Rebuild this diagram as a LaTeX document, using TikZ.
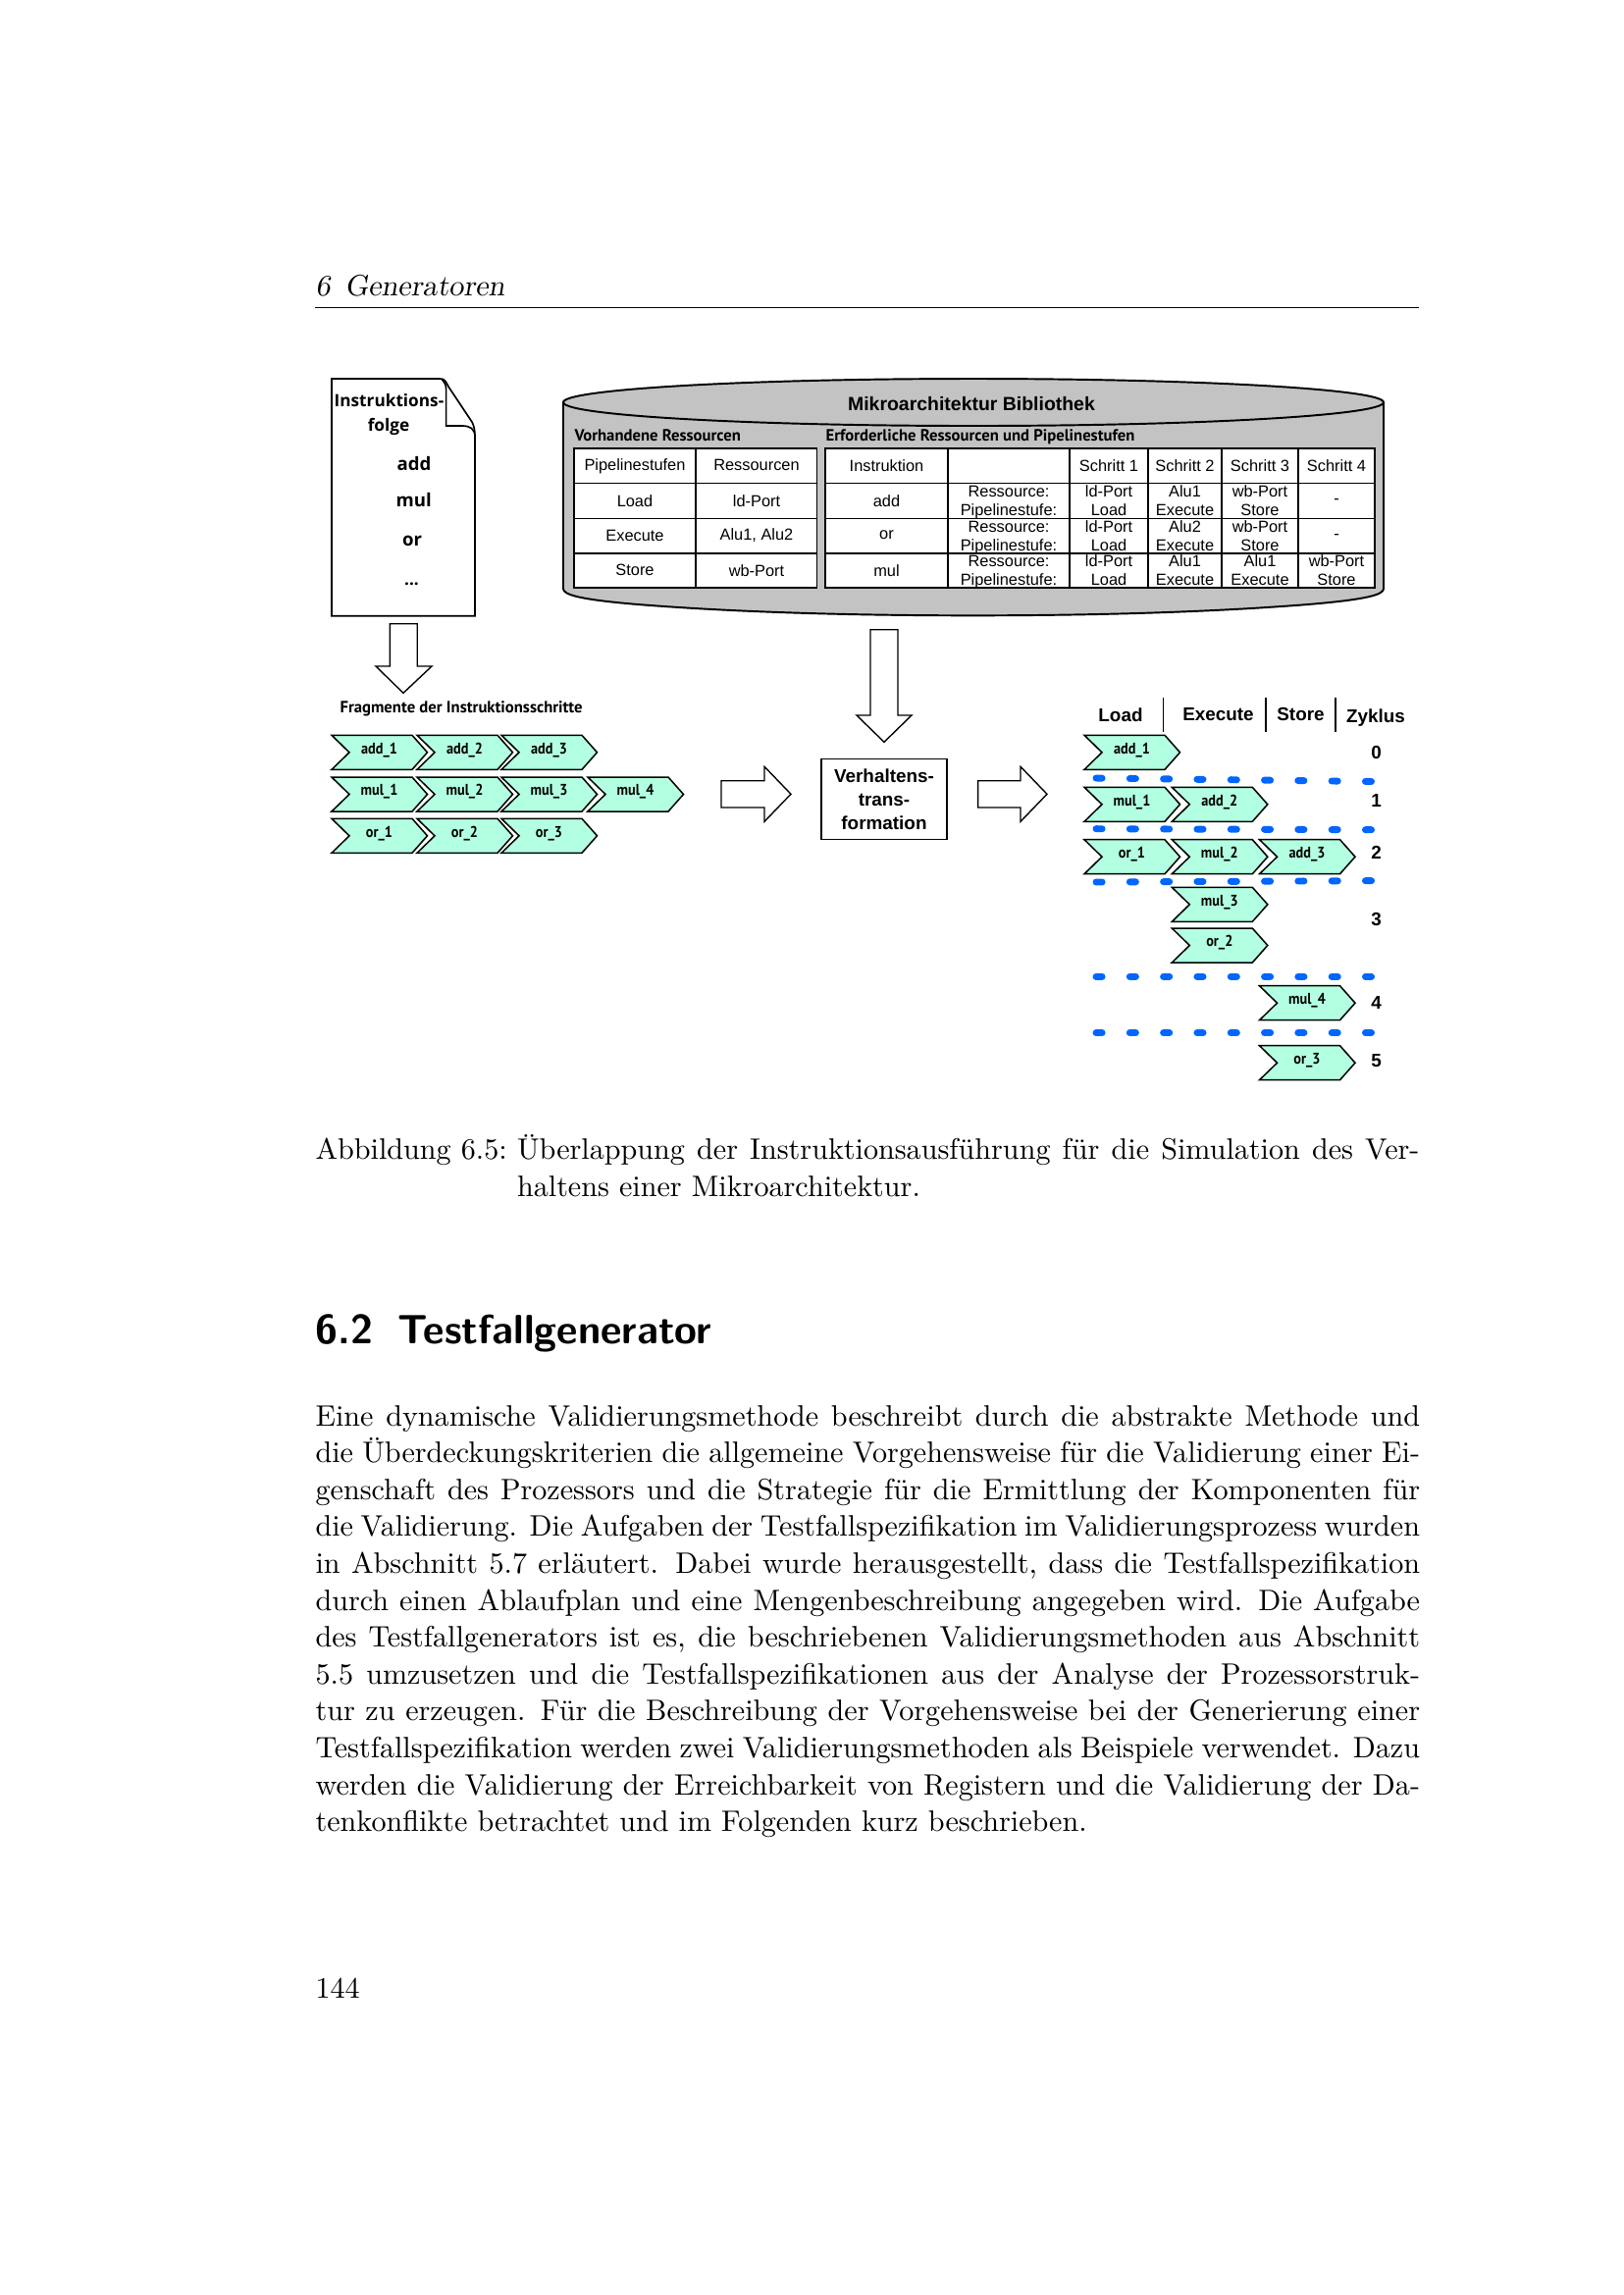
\documentclass[tikz,border=0pt]{standalone}
\usepackage{fontspec}
\newfontfamily\arialf{Liberation Sans}
\newfontfamily\docf{Open Sans}
\newfontfamily\condf{PT Sans}
\newfontfamily\chevf[FakeStretch=0.9]{PT Sans}
\definecolor{chevfill}{RGB}{179,255,226}
\definecolor{cylfill}{RGB}{195,195,195}
\definecolor{dotblue}{RGB}{0,102,255}
\tikzset{
  chevshape/.style={draw=black,fill=chevfill,line width=0.55pt,line join=miter},
  chevtext/.style={inner sep=0pt,font=\chevf\bfseries\fontsize{5.7}{7}\selectfont},
  blockarrow/.style={draw=black,fill=white,line width=0.5pt,line join=miter,xshift=0.36pt},
  tabfill/.style={draw=black,fill=white,line width=0.65pt},
  tabline/.style={draw=black,line width=0.4pt},
  tabthick/.style={draw=black,line width=0.75pt},
  tabtext/.style={inner sep=0pt,align=center,font=\arialf\fontsize{5.9}{6.9}\selectfont},
  headtext/.style={inner sep=0pt,anchor=base west,font=\condf\bfseries\fontsize{6.0}{7}\selectfont},
  doctext/.style={inner sep=0pt,font=\docf\bfseries\fontsize{6.2}{8}\selectfont},
  docbig/.style={inner sep=0pt,font=\docf\bfseries\fontsize{6.7}{8}\selectfont},
  boldtext/.style={inner sep=0pt,align=center,font=\arialf\bfseries\fontsize{6.8}{8.6}\selectfont},
  dotline/.style={draw=dotblue,line width=2.5pt,line cap=round,dash pattern=on 2.2pt off 10.15pt},
  bodyline/.style={inner sep=0pt,anchor=base west,font=\fontsize{10.85}{13.6}\selectfont},
}
\newcommand{\chev}[4]{%
  \begin{scope}[shift={(#2+1,#3)}]
    \path[chevshape] (0,0) -- (82,0) -- (97.5,17.5) -- (82,35) -- (0,35) -- (18,17.5) -- cycle;
    \node[chevtext] (#1) at (48.5,15) {#4};
  \end{scope}}
\newcommand{\bodyln}[3]{\node[bodyline] (#1) at (321,#2) {\makebox[405.2pt][s]{#3}};}
\begin{document}
\begin{tikzpicture}[x=0.36pt,y=-0.36pt]
\useasboundingbox (0,0) rectangle (1654,2339);
% page header
\node[bodyline] (pagehead) at (321,301) {\slshape 6\hspace{0.5em}Generatoren};
\draw[line width=0.35pt] (321,313) coordinate (ruleL) -- (1446,313) coordinate (ruleR);
% document
\path[blockarrow,line width=0.6pt] (337,386) -- (447,386) .. controls (452,386) and (453,388) .. (456,394) -- (480,430) .. controls (482,434) and (483,438) .. (483,445) -- (483,627.7) -- (337,627.7) -- cycle;
\path[blockarrow,fill=none,line width=0.6pt] (449,386) .. controls (452,390) and (453.6,392) .. (453.6,396) -- (453.6,434) -- (470,434) .. controls (478,434) and (483,437) .. (483,445);
\node[doctext] (doc1) at (396.5,408) {Instruktions-};
\node[doctext] (doc2) at (396,434.5) {folge};
\node[docbig] (doc3) at (422,473) {add};
\node[docbig] (doc4) at (421.6,510) {mul};
\node[docbig] (doc5) at (420,551) {or};
\node[doctext] (doc6) at (419.5,595) {...};
% arrow 1
\path[blockarrow] (396.4,635.7) -- (424.3,635.7) -- (424.3,679) -- (439,679) -- (410,706.3) -- (382,679) -- (396.4,679) -- cycle;
% cylinder
\path[draw=black,fill=cylfill,line width=0.7pt] (574,410) -- (574,600) .. controls (574,606) and (590,611) .. (650,616) .. controls (750,624) and (870,627.3) .. (991.5,627.3) .. controls (1113,627.3) and (1233,624) .. (1333,616) .. controls (1393,611) and (1410,606) .. (1410,600) -- (1410,410);
\draw[draw=black,fill=cylfill,line width=0.7pt] (992,410) ellipse [x radius=418, y radius=24];
\node[boldtext,font=\arialf\bfseries\fontsize{7.0}{9}\selectfont] (cyltitle) at (990,411.7) {Mikroarchitektur Bibliothek};
\node[headtext] (hleft) at (585,449.3) {Vorhandene Ressourcen};
\node[headtext] (hright) at (841,449.3) {Erforderliche Ressourcen und Pipelinestufen};
% left table
\path[tabfill] (585,457.3) rectangle (832.5,599.3);
\foreach \yy in {492.3,528.3} \draw[tabline] (585,\yy) -- (832.5,\yy);
\draw[tabthick] (585,563.7) -- (832.5,563.7);
\draw[tabline] (709,457.3) -- (709,599.3);
\node[tabtext] (l11) at (647,475.5) {Pipelinestufen};
\node[tabtext] (l12) at (771,474.3) {Ressourcen};
\node[tabtext] (l21) at (647,510.3) {Load};
\node[tabtext] (l22) at (771,510.3) {ld-Port};
\node[tabtext] (l31) at (647,545.8) {Execute};
\node[tabtext] (l32) at (771,545.8) {Alu1, Alu2};
\node[tabtext] (l41) at (647,581) {Store};
\node[tabtext] (l42) at (771,581.5) {wb-Port};
% right table
\path[tabfill] (841,457.3) rectangle (1401,599.3);
\foreach \yy in {492.3,528.3} \draw[tabline] (841,\yy) -- (1401,\yy);
\draw[tabthick] (841,563.7) -- (1401,563.7);
\foreach \xx in {966,1090,1245,1323} \draw[tabline] (\xx,457.3) -- (\xx,599.3);
\draw[tabthick] (1170,457.3) -- (1170,599.3);
\node[tabtext] (r11) at (903.5,474.3) {Instruktion};
\node[tabtext] (r13) at (1130,474.3) {Schritt 1};
\node[tabtext] (r14) at (1207.5,474.3) {Schritt 2};
\node[tabtext] (r15) at (1284,474.3) {Schritt 3};
\node[tabtext] (r16) at (1362,474.3) {Schritt 4};
\node[tabtext] (r21) at (903.5,510.3) {add};
\node[tabtext] (r22) at (1028,512) {Ressource:\\Pipelinestufe:};
\node[tabtext] (r23) at (1130,510.5) {ld-Port\\Load};
\node[tabtext] (r24) at (1207.5,510.5) {Alu1\\Execute};
\node[tabtext] (r25) at (1284,510.5) {wb-Port\\Store};
\node[tabtext] (r26) at (1362,511) {-};
\node[tabtext] (r31) at (903.5,545.3) {or};
\node[tabtext] (r32) at (1028,548) {Ressource:\\Pipelinestufe:};
\node[tabtext] (r33) at (1130,546.5) {ld-Port\\Load};
\node[tabtext] (r34) at (1207.5,546.5) {Alu2\\Execute};
\node[tabtext] (r35) at (1284,546.5) {wb-Port\\Store};
\node[tabtext] (r36) at (1362,547) {-};
\node[tabtext] (r41) at (903.5,581.5) {mul};
\node[tabtext] (r42) at (1028,583) {Ressource:\\Pipelinestufe:};
\node[tabtext] (r43) at (1130,581.5) {ld-Port\\Load};
\node[tabtext] (r44) at (1207.5,581.5) {Alu1\\Execute};
\node[tabtext] (r45) at (1284,581.5) {Alu1\\Execute};
\node[tabtext] (r46) at (1362,581.5) {wb-Port\\Store};
% arrow 2
\path[blockarrow] (886,641.7) -- (914,641.7) -- (914,729) -- (928,729) -- (900,756.3) -- (872,729) -- (886,729) -- cycle;
% fragments
\node[inner sep=0pt,anchor=west,font=\condf\bfseries\fontsize{6.0}{8}\selectfont] (frag) at (346,722) {Fragmente der Instruktionsschritte};
\chev{fa1}{337}{749.3}{add\_1}
\chev{fa2}{424}{749.3}{add\_2}
\chev{fa3}{510}{749.3}{add\_3}
\chev{fm1}{337}{792}{mul\_1}
\chev{fm2}{424}{792}{mul\_2}
\chev{fm3}{510}{792}{mul\_3}
\chev{fm4}{598}{792}{mul\_4}
\chev{fo1}{337}{834.3}{or\_1}
\chev{fo2}{424}{834.3}{or\_2}
\chev{fo3}{510}{834.3}{or\_3}
% right arrows
\path[blockarrow] (734,795.7) -- (778,795.7) -- (778,781.3) -- (805,809.3) -- (778,837.3) -- (778,823) -- (734,823) -- cycle;
\path[blockarrow] (995.6,795.7) -- (1039,795.7) -- (1039,781.3) -- (1066,809.3) -- (1039,837.3) -- (1039,823) -- (995.6,823) -- cycle;
% transformation
\node[draw=black,fill=white,line width=0.5pt,minimum width=46pt,minimum height=29.6pt,inner sep=0pt,align=center,font=\arialf\bfseries\fontsize{6.8}{8.6}\selectfont] (vt) at (901,814.5) {Verhaltens-\\trans-\\formation};
% schedule header
\node[boldtext] (hload) at (1142,728.3) {Load};
\node[boldtext] (hexec) at (1241.5,728.3) {Execute};
\node[boldtext] (hstore) at (1325.5,728.3) {Store};
\node[boldtext] (hzyk) at (1402,731.5) {Zyklus};
\draw[line width=0.35pt] (1185,711) coordinate (s1a) -- (1185,746) coordinate (s1b);
\draw[line width=0.6pt] (1290,711) coordinate (s2a) -- (1290,746) coordinate (s2b);
\draw[line width=0.6pt] (1361,711) coordinate (s3a) -- (1361,746) coordinate (s3b);
% dotted separators
\draw[dotline] (1117,793) coordinate (d1a) -- (1400,796.5) coordinate (d1b);
\draw[dotline] (1117,844.7) coordinate (d2a) -- (1400,845.7) coordinate (d2b);
\draw[dotline] (1117,899) coordinate (d3a) -- (1400,897.6) coordinate (d3b);
\draw[dotline] (1117,995.3) coordinate (d4a) -- (1400,995.3) coordinate (d4b);
\draw[dotline] (1117,1052.7) coordinate (d5a) -- (1400,1052.7) coordinate (d5b);
% schedule chevrons
\chev{sa1}{1104}{749.3}{add\_1}
\chev{sm1}{1104}{802.3}{mul\_1}
\chev{sa2}{1193.3}{802.3}{add\_2}
\chev{so1}{1104}{855.7}{or\_1}
\chev{sm2}{1193.3}{855.7}{mul\_2}
\chev{sa3}{1282.5}{855.7}{add\_3}
\chev{sm3}{1193.3}{904.3}{mul\_3}
\chev{so2}{1193.3}{946}{or\_2}
\chev{sm4}{1282.5}{1004.7}{mul\_4}
\chev{so3}{1282.5}{1065.7}{or\_3}
\node[boldtext] (z0) at (1402.5,767) {0};
\node[boldtext] (z1) at (1402.5,816.3) {1};
\node[boldtext] (z2) at (1402.5,868.7) {2};
\node[boldtext] (z3) at (1402.5,937) {3};
\node[boldtext] (z4) at (1402.5,1022) {4};
\node[boldtext] (z5) at (1402.5,1081) {5};
% caption
\node[bodyline] (cap0) at (321,1181) {Abbildung 6.5:};
\node[bodyline] (cap1) at (526.5,1181) {\makebox[331pt][s]{Überlappung der Instruktionsausführung für die Simulation des Ver-}};
\node[bodyline] (cap2) at (526.5,1219) {haltens einer Mikroarchitektur.};
% section
\node[inner sep=0pt,anchor=base west,font=\sffamily\bfseries\fontsize{15}{18}\selectfont] (sec) at (321,1369) {6.2\hspace{0.6em}Testfallgenerator};
% body
\bodyln{b01}{1453}{Eine dynamische Validierungsmethode beschreibt durch die abstrakte Methode und}
\bodyln{b02}{1490.6}{die Überdeckungskriterien die allgemeine Vorgehensweise für die Validierung einer Ei-}
\bodyln{b03}{1528.2}{genschaft des Prozessors und die Strategie für die Ermittlung der Komponenten für}
\bodyln{b04}{1565.8}{die Validierung. Die Aufgaben der Testfallspezifikation im Validierungsprozess wurden}
\bodyln{b05}{1603.4}{in Abschnitt 5.7 erläutert. Dabei wurde herausgestellt, dass die Testfallspezifikation}
\bodyln{b06}{1641}{durch einen Ablaufplan und eine Mengenbeschreibung angegeben wird. Die Aufgabe}
\bodyln{b07}{1678.6}{des Testfallgenerators ist es, die beschriebenen Validierungsmethoden aus Abschnitt}
\bodyln{b08}{1716.2}{5.5 umzusetzen und die Testfallspezifikationen aus der Analyse der Prozessorstruk-}
\bodyln{b09}{1753.8}{tur zu erzeugen. Für die Beschreibung der Vorgehensweise bei der Generierung einer}
\bodyln{b10}{1791.4}{Testfallspezifikation werden zwei Validierungsmethoden als Beispiele verwendet. Dazu}
\bodyln{b11}{1829}{werden die Validierung der Erreichbarkeit von Registern und die Validierung der Da-}
\node[bodyline] (b12) at (321,1866.6) {tenkonflikte betrachtet und im Folgenden kurz beschrieben.};
\node[bodyline] (pno) at (321,2036) {144};
\end{tikzpicture}
\end{document}
